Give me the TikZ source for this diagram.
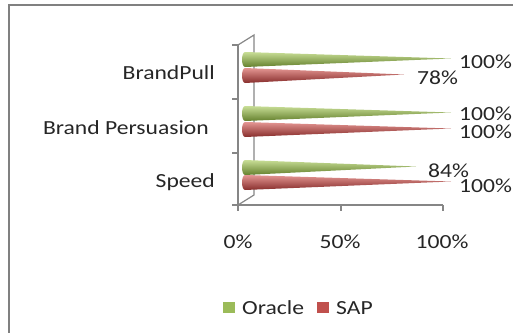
\documentclass[tikz,border=0pt]{standalone}
\usepackage{fontspec}
\newfontfamily\cf[FakeStretch=1.18]{Carlito}
\definecolor{axisgray}{RGB}{134,134,134}
\definecolor{framegray}{RGB}{128,128,128}
\definecolor{orgreen}{RGB}{155,187,89}
\definecolor{orgreenL}{RGB}{200,222,150}
\definecolor{orgreenD}{RGB}{100,128,45}
\definecolor{sapred}{RGB}{192,80,77}
\definecolor{sapredL}{RGB}{228,150,147}
\definecolor{sapredD}{RGB}{135,45,43}
\tikzset{
  lbl/.style={font=\cf\fontsize{20}{22}\selectfont, text=black!85, inner sep=0pt},
  vlbl/.style={lbl, anchor=west, text height=12.5pt, text depth=0.5pt},
  axline/.style={draw=axisgray, line width=1.2pt},
  greencone/.style={top color=orgreenL, middle color=orgreen, bottom color=orgreenD, draw=none},
  redcone/.style={top color=sapredL, middle color=sapred, bottom color=sapredD, draw=none},
}
\newcommand{\mycone}[3]{%
  \path[#3] (245,#1) -- (#2,#1+6.5) -- (245,#1+15)
    arc[start angle=90, end angle=270, x radius=3, y radius=7.5] -- cycle;}
\begin{document}
\begin{tikzpicture}[x=1pt,y=-1pt]
\useasboundingbox (0,0) rectangle (513,332);
% frame
\draw[framegray, line width=1.6pt] (9,333) -- (9,5) -- (514,5);
% axes
\coordinate (fa) at (238,45);
\coordinate (fb) at (238,205);
\coordinate (ba) at (254,35);
\coordinate (bb) at (254,195);
\coordinate (fr) at (443,205);
\draw[axline] (fa) -- (fb) -- (fr);
\draw[axline] (fa) -- (ba) -- (bb) -- (fb);
\foreach \y in {45,99,153,205} \draw[axline] (232,\y) -- (238,\y);
\foreach \x in {238,341,443} \draw[axline] (\x,205) -- (\x,211);
% cones
\mycone{52}{451}{greencone}
\mycone{68}{404}{redcone}
\mycone{106}{451}{greencone}
\mycone{122}{451}{redcone}
\mycone{160}{416}{greencone}
\mycone{175}{451}{redcone}
% value labels
\node[vlbl] (v1) at (459,62) {100\%};
\node[vlbl] (v2) at (417,78) {78\%};
\node[vlbl] (v3) at (459,114.5) {100\%};
\node[vlbl] (v4) at (459,132.5) {100\%};
\node[vlbl] (v5) at (428,171.5) {84\%};
\node[vlbl] (v6) at (459,186) {100\%};
% category labels
\node[lbl, anchor=east] (c1) at (215,73) {BrandPull};
\node[lbl, anchor=east] (c2) at (209,128) {Brand Persuasion};
\node[lbl, anchor=east] (c3) at (215,182) {Speed};
% x tick labels
\node[lbl] (t0) at (238,242) {0\%};
\node[lbl] (t1) at (340,242) {50\%};
\node[lbl] (t2) at (442,242) {100\%};
% legend
\fill[orgreen] (223,302) rectangle (235,313);
\node[lbl, anchor=west] (l1) at (242,308) {Oracle};
\fill[sapred] (317,302) rectangle (329,313);
\node[lbl, anchor=west] (l2) at (336,308) {SAP};
\end{tikzpicture}
\end{document}
